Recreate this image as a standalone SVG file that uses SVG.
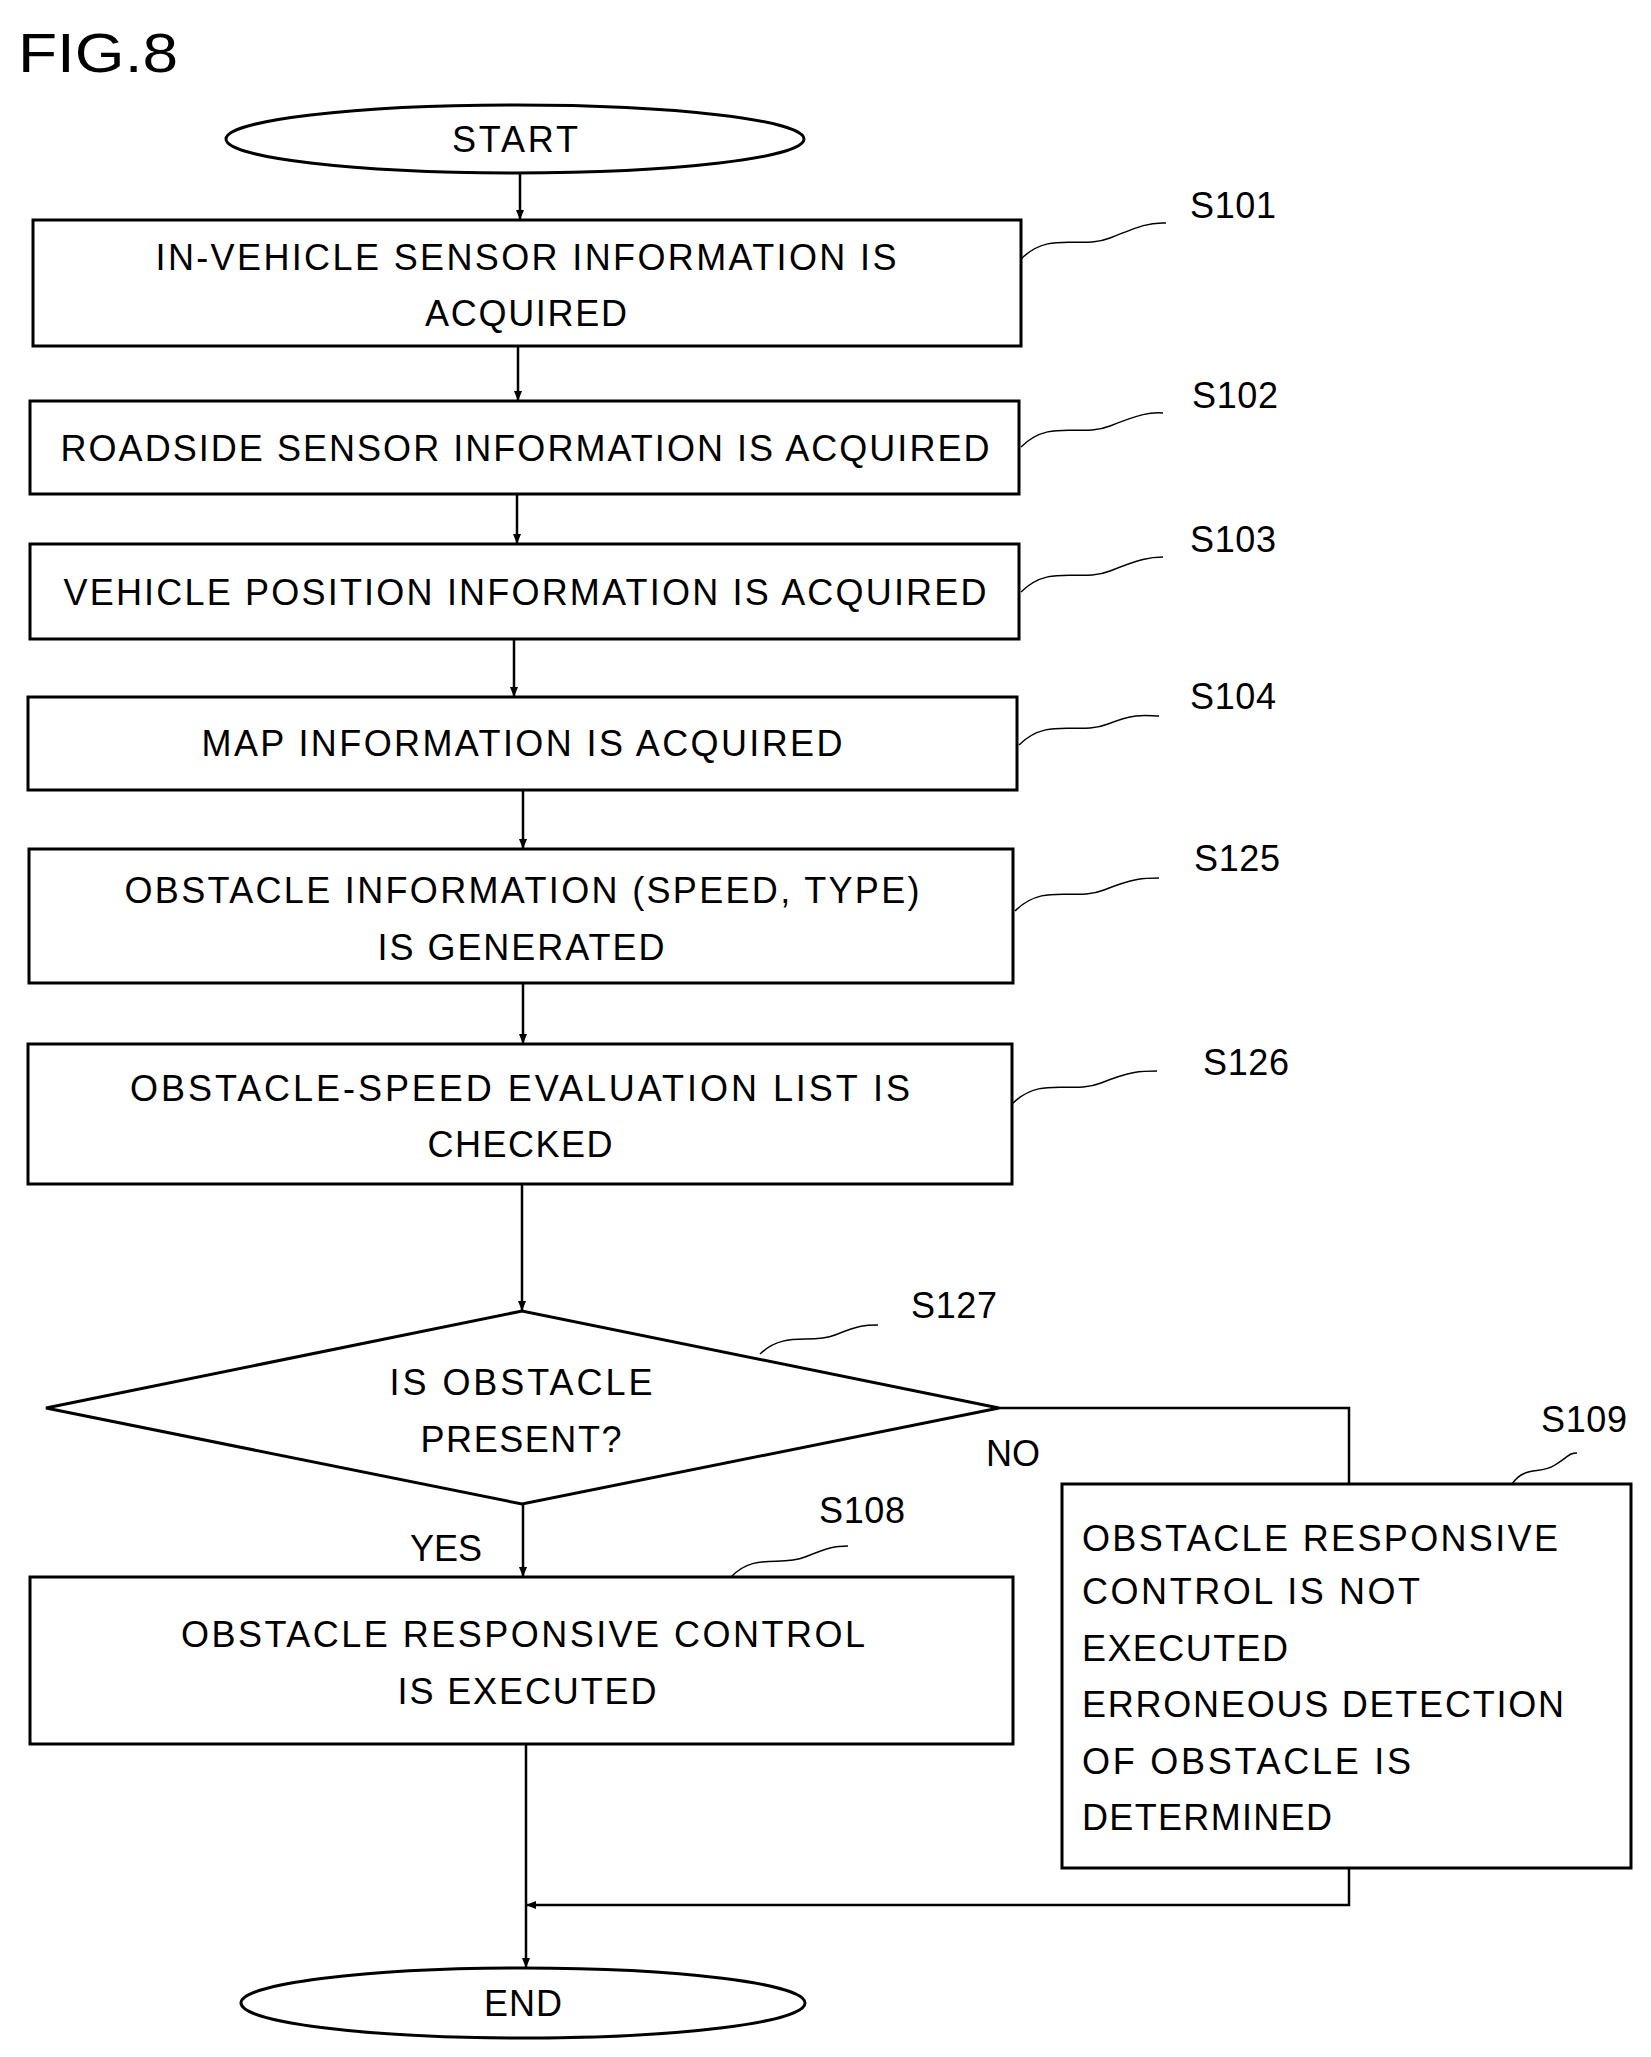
<svg xmlns="http://www.w3.org/2000/svg" width="1651" height="2057" viewBox="0 0 1651 2057">
<style>
.b{fill:#fff;stroke:#000;stroke-width:3}
.t{font-family:"Liberation Sans",Arial,sans-serif;font-size:36px;fill:#000}
.c{text-anchor:middle}
.l{fill:none;stroke:#000;stroke-width:2.5}
.s{fill:none;stroke:#000;stroke-width:1.5}
</style>
<defs><marker id="a" markerWidth="10" markerHeight="10" refX="9" refY="5" orient="auto" markerUnits="userSpaceOnUse"><path d="M0,1 L10,5 L0,9 Z" fill="#000"/></marker></defs>
<rect width="1651" height="2057" fill="#fff"/>
<text x="18" y="72" class="t" style="font-size:56px" textLength="160" lengthAdjust="spacingAndGlyphs">FIG.8</text>
<g id="start"><ellipse class="b" cx="515" cy="139" rx="289" ry="34"/><text class="t c" x="515" y="152" textLength="126" lengthAdjust="spacing">START</text></g>
<g id="s101"><rect class="b" x="33" y="220" width="988" height="126"/><text class="t c" x="526" y="270" textLength="741" lengthAdjust="spacing">IN-VEHICLE SENSOR INFORMATION IS</text><text class="t c" x="526" y="326" textLength="202" lengthAdjust="spacing">ACQUIRED</text><path class="s" d="M1021,259 C1050,230 1080,250 1110,238 S1150,222 1166,223"/><text class="t" x="1190" y="218" textLength="86" lengthAdjust="spacing">S101</text></g>
<g id="s102"><rect class="b" x="30" y="401" width="989" height="93"/><text class="t c" x="525" y="461" textLength="929" lengthAdjust="spacing">ROADSIDE SENSOR INFORMATION IS ACQUIRED</text><path class="s" d="M1021,447 C1050,418 1080,438 1110,426 S1150,412 1163,413"/><text class="t" x="1192" y="408" textLength="86" lengthAdjust="spacing">S102</text></g>
<g id="s103"><rect class="b" x="30" y="544" width="989" height="95"/><text class="t c" x="525" y="605" textLength="923" lengthAdjust="spacing">VEHICLE POSITION INFORMATION IS ACQUIRED</text><path class="s" d="M1021,592 C1050,563 1080,583 1110,571 S1150,557 1163,557"/><text class="t" x="1190" y="552" textLength="86" lengthAdjust="spacing">S103</text></g>
<g id="s104"><rect class="b" x="28" y="697" width="989" height="93"/><text class="t c" x="522" y="756" textLength="641" lengthAdjust="spacing">MAP INFORMATION IS ACQUIRED</text><path class="s" d="M1019,745 C1048,716 1078,736 1108,724 S1148,716 1159,716"/><text class="t" x="1190" y="709" textLength="86" lengthAdjust="spacing">S104</text></g>
<g id="s125"><rect class="b" x="29" y="849" width="984" height="134"/><text class="t c" x="522" y="903" textLength="795" lengthAdjust="spacing">OBSTACLE INFORMATION (SPEED, TYPE)</text><text class="t c" x="521" y="960" textLength="287" lengthAdjust="spacing">IS GENERATED</text><path class="s" d="M1015,911 C1044,882 1074,902 1104,890 S1144,878 1159,878"/><text class="t" x="1194" y="871" textLength="86" lengthAdjust="spacing">S125</text></g>
<g id="s126"><rect class="b" x="28" y="1044" width="984" height="140"/><text class="t c" x="520" y="1101" textLength="780" lengthAdjust="spacing">OBSTACLE-SPEED EVALUATION LIST IS</text><text class="t c" x="520" y="1157" textLength="185" lengthAdjust="spacing">CHECKED</text><path class="s" d="M1012,1104 C1041,1075 1071,1095 1101,1083 S1141,1071 1157,1071"/><text class="t" x="1203" y="1075" textLength="86" lengthAdjust="spacing">S126</text></g>
<g id="s127"><polygon class="b" points="46,1408 522,1311 999,1408 522,1504"/><text class="t c" x="521" y="1395" textLength="263" lengthAdjust="spacing">IS OBSTACLE</text><text class="t c" x="521" y="1452" textLength="201" lengthAdjust="spacing">PRESENT?</text><path class="s" d="M760,1354 C785,1330 810,1345 835,1335 S865,1325 878,1325"/><text class="t" x="911" y="1318" textLength="86" lengthAdjust="spacing">S127</text></g>
<g id="s108"><rect class="b" x="30" y="1577" width="983" height="167"/><text class="t c" x="523" y="1647" textLength="684" lengthAdjust="spacing">OBSTACLE RESPONSIVE CONTROL</text><text class="t c" x="527" y="1704" textLength="259" lengthAdjust="spacing">IS EXECUTED</text><path class="s" d="M731,1577 C755,1552 780,1567 805,1557 S835,1546 848,1546"/><text class="t" x="819" y="1523" textLength="86" lengthAdjust="spacing">S108</text></g>
<g id="s109"><rect class="b" x="1062" y="1484" width="569" height="384"/>
<text class="t" x="1082" y="1551" textLength="476" lengthAdjust="spacing">OBSTACLE RESPONSIVE</text>
<text class="t" x="1082" y="1604" textLength="338" lengthAdjust="spacing">CONTROL IS NOT</text>
<text class="t" x="1082" y="1661" textLength="206" lengthAdjust="spacing">EXECUTED</text>
<text class="t" x="1082" y="1717" textLength="482" lengthAdjust="spacing">ERRONEOUS DETECTION</text>
<text class="t" x="1082" y="1774" textLength="329" lengthAdjust="spacing">OF OBSTACLE IS</text>
<text class="t" x="1082" y="1830" textLength="250" lengthAdjust="spacing">DETERMINED</text>
<path class="s" d="M1512,1484 C1525,1465 1540,1475 1555,1465 S1570,1453 1577,1453"/><text class="t" x="1541" y="1432" textLength="86" lengthAdjust="spacing">S109</text></g>
<g id="end"><ellipse class="b" cx="523" cy="2003" rx="282" ry="35"/><text class="t c" x="523" y="2016" textLength="78" lengthAdjust="spacing">END</text></g>
<g id="connectors">
<line class="l" x1="520" y1="173" x2="520" y2="219" marker-end="url(#a)"/>
<line class="l" x1="518" y1="346" x2="518" y2="400" marker-end="url(#a)"/>
<line class="l" x1="517" y1="494" x2="517" y2="543" marker-end="url(#a)"/>
<line class="l" x1="514" y1="639" x2="514" y2="696" marker-end="url(#a)"/>
<line class="l" x1="523" y1="790" x2="523" y2="848" marker-end="url(#a)"/>
<line class="l" x1="523" y1="983" x2="523" y2="1043" marker-end="url(#a)"/>
<line class="l" x1="522" y1="1184" x2="522" y2="1310" marker-end="url(#a)"/>
<line class="l" x1="523" y1="1504" x2="523" y2="1576" marker-end="url(#a)"/>
<line class="l" x1="526" y1="1744" x2="526" y2="1967" marker-end="url(#a)"/>
<polyline class="l" points="999,1408 1349,1408 1349,1484"/>
<polyline class="l" points="1349,1868 1349,1905 527,1905" marker-end="url(#a)"/>
<text class="t" x="986" y="1466">NO</text>
<text class="t" x="410" y="1561">YES</text>
</g>
</svg>
